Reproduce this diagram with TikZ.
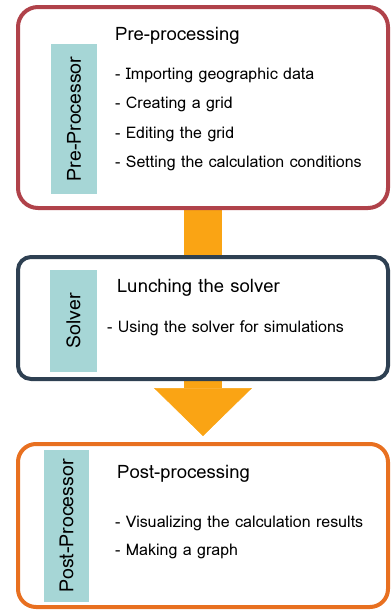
\documentclass[tikz,border=0pt]{standalone}
\usepackage{fontspec}
\setmainfont{Loma}
\usetikzlibrary{arrows.meta,backgrounds}

\definecolor{preRed}{RGB}{176,66,74}
\definecolor{solverBlue}{RGB}{46,64,82}
\definecolor{postOrange}{RGB}{232,112,32}
\definecolor{tagTeal}{RGB}{166,214,214}
\definecolor{flowOrange}{RGB}{250,164,20}

\tikzset{
  stage/.style={draw, line width=4pt, fill=white, rounded corners=#1},
  tag/.style={fill=tagTeal, rotate=90, inner sep=0pt, font=\fontsize{19.5}{19.5}\selectfont},
  heading/.style={anchor=west, inner sep=0pt, font=\fontsize{18.5}{18.5}\selectfont},
  item/.style={anchor=west, inner sep=0pt, font=\fontsize{16}{16}\selectfont},
  flow/.style={draw=flowOrange, line width=38pt}
}

\begin{document}
\begin{tikzpicture}[x=1pt, y=-1pt]
     \useasboundingbox (0,0) rectangle (391,611);

     % the three stages
     \node (pre) [stage=20pt, draw=preRed, minimum width=370pt, minimum height=201pt] at (203,107.5) {};
     \node (solver) [stage=13pt, draw=solverBlue, minimum width=370pt, minimum height=122pt] at (203,318) {};
     \node (post) [stage=18pt, draw=postOrange, minimum width=370pt, minimum height=163pt] at (203,525.5) {};

     % side tags
     \node (preTag) [tag, minimum width=150pt, minimum height=46pt] at (74,119) {Pre-Processor};
     \node (solverTag) [tag, minimum width=102pt, minimum height=47pt] at (73.5,321) {Solver};
     \node (postTag) [tag, minimum width=152pt, minimum height=45pt] at (66.5,526) {Post-Processor};

     % headings
     \node (preHead) [heading] at (115,36) {Pre-processing};
     \node (solverHead) [heading] at (117,288) {Lunching the solver};
     \node (postHead) [heading] at (117,474) {Post-processing};

     % tasks
     \node (preA) [item] at (115,75) {- Importing geographic data};
     \node (preB) [item] at (115,104) {- Creating a grid};
     \node (preC) [item] at (115,134) {- Editing the grid};
     \node (preD) [item] at (115,163) {- Setting the calculation conditions};
     \node (solverA) [item] at (107,328) {- Using the solver for simulations};
     \node (postA) [item] at (115,523) {- Visualizing the calculation results};
     \node (postB) [item] at (115,551) {- Making a graph};

     % flow between stages
     \begin{scope}[on background layer]
       \draw[flow] (pre.south) -- (solver.north);
       \draw[flow, -{Triangle[width=98pt, length=48pt, line width=0.5pt]}, shorten >=6pt] (solver.south) -- (post.north);
     \end{scope}
\end{tikzpicture}
\end{document}
